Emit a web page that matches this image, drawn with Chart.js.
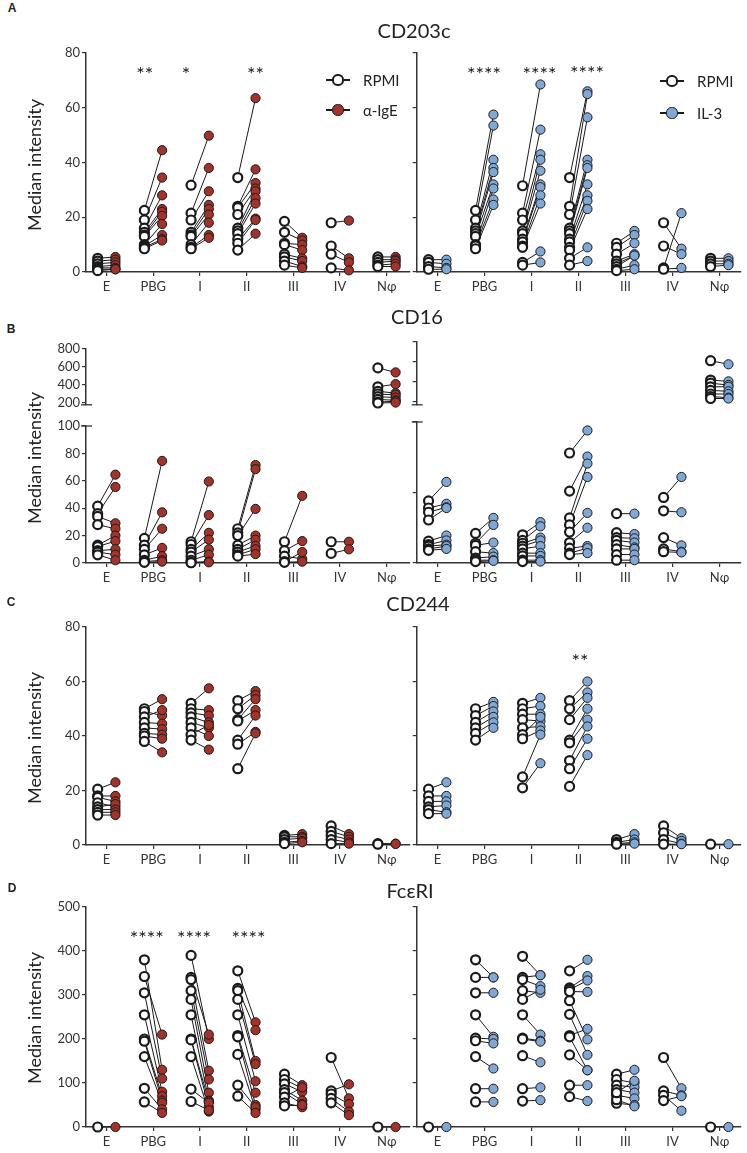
<!DOCTYPE html>
<html>
<head>
<meta charset="utf-8">
<script src="https://cdn.jsdelivr.net/npm/chart.js@4.4.1/dist/chart.umd.min.js"></script>
<style>
  body { margin: 0; background: #fff; font-family: Lato, "Open Sans", sans-serif; color: #222; }
  #fig { position: relative; width: 747px; height: 1153px; overflow: hidden; background: #fff; }
  #fig canvas { position: absolute; }
  .txt { position: absolute; white-space: nowrap; }
</style>
</head>
<body>
<div id="fig"></div>
<script>
var categories = ['E', 'PBG', 'I', 'II', 'III', 'IV', 'Nφ'];

// each row = one category, values paired by position (RPMI -> stimulated)
// CD203c
var cd203cRpmiL = [
  [5, 4, 3, 2, 1.5, 1, 0.5],
  [22.5, 19, 16, 14.5, 13.5, 13, 10, 9.5, 9, 8.5],
  [31.7, 21.5, 19, 14.5, 13.5, 13, 10, 9, 8.5],
  [34.5, 24, 23.5, 21, 16, 15, 14, 12, 10.5, 8],
  [18.5, 14.5, 10.5, 10, 6.5, 5.5, 4, 2.5],
  [18, 9.5, 6.5, 1.5],
  [5.5, 4.5, 3.5, 2.5, 2]
];
var cd203cIgE = [
  [5.5, 4.5, 3.5, 2.5, 1.5, 1, 1],
  [44.5, 34.5, 28, 23, 22, 20.5, 17.5, 13.5, 12, 11.5],
  [49.8, 38, 29.5, 24.5, 23, 21, 18, 13.5, 12.5],
  [63.5, 37.5, 32.5, 30.5, 29.5, 27, 25, 19.5, 19, 14],
  [12.5, 11.5, 10, 8, 5, 4, 2, 1.5],
  [18.8, 5, 3.5, 0.6],
  [5.5, 4.5, 4, 3, 2]
];
var cd203cRpmiR = [
  [4.5, 3.5, 2, 1],
  [22.5, 19, 16, 15, 14, 13, 10, 9.5, 8.5],
  [31.5, 21.5, 19, 15, 14, 12, 11, 9.5, 9, 3.5, 2.5],
  [34.5, 24, 21, 16, 15, 14, 12, 11, 9, 8, 5, 2.5],
  [10.5, 9, 6.5, 4, 3, 2, 1, 0.5],
  [18, 9.5, 1.5, 1],
  [5, 4, 3, 2]
];
var cd203cIL3 = [
  [4.5, 3, 1.5, 1],
  [57.5, 53.5, 41, 38, 36.5, 32, 30.5, 26.5, 24.5],
  [68.5, 52, 43, 41, 37, 32, 31, 28, 25, 7.5, 3.5],
  [66, 65, 56.5, 41, 39, 38, 32, 28, 26, 23, 9, 4],
  [15, 13.5, 10.5, 6.5, 6, 6, 2.5, 1],
  [8.5, 6.5, 21.5, 1.5],
  [5, 4, 3, 2.5]
];

// CD16 (Nφ sits on the upper, broken part of the axis)
var cd16RpmiL = [
  [41.5, 36, 34, 28, 13, 12, 9, 8, 6],
  [18, 13, 10, 6, 2, 1, 0.5],
  [15.5, 13.5, 10, 8, 5, 2, 0.5, 0.2],
  [25, 22, 20, 13, 10, 8, 6, 5],
  [15.5, 9, 5, 1, 0.5],
  [15.5, 7],
  [590, 380, 330, 300, 270, 240, 210, 200]
];
var cd16IgE = [
  [64.5, 55.5, 29, 25, 20, 16, 10, 6, 2],
  [74.5, 37, 25, 11, 5, 2, 1],
  [59.5, 35, 22, 17, 10, 6, 1, 0.5],
  [71.5, 68.5, 39.5, 20, 17, 12.5, 10, 6.5],
  [49, 16, 3, 8, 1],
  [15.5, 10],
  [540, 410, 310, 290, 260, 230, 220, 205]
];
var cd16RpmiR = [
  [44, 39, 36, 30.5, 15.5, 13, 12, 10, 9],
  [21, 14, 12.5, 8, 3.5, 2, 1],
  [20, 16, 14, 12, 10, 7, 5, 2, 1],
  [78, 51, 32, 27, 22, 14.5, 10.5, 7, 6],
  [35, 21.5, 18, 16, 13, 10, 6, 2],
  [46.5, 37, 18, 10, 8],
  [670, 455, 420, 380, 340, 300, 270, 250]
];
var cd16IL3 = [
  [57.5, 42, 39.5, 39, 19.5, 16, 13, 12, 10],
  [32, 27, 14.5, 7, 4.5, 2, 1.5],
  [29, 26, 18, 16, 12, 7, 5, 2, 1],
  [94, 75.5, 70.5, 61, 35.5, 25, 12, 10.5, 7],
  [35, 20.5, 17.5, 14.5, 11, 10, 6, 2],
  [61, 36, 12.5, 8, 7.5],
  [630, 440, 400, 380, 330, 300, 260, 250]
];

// CD244
var cd244RpmiL = [
  [20.5, 18, 17.5, 15.5, 14, 13, 12, 11],
  [50, 49, 47, 45, 43, 41, 40, 38],
  [52, 50, 48.5, 47, 45, 43, 40.5, 38.5],
  [53, 50, 46, 45.5, 38.5, 37, 28],
  [3.5, 3, 2, 1, 0.5],
  [7, 5, 3.5, 2, 0.5],
  [0.5, 0.3]
];
var cd244IgE = [
  [23, 18, 16, 14, 15, 13, 12, 11],
  [53.5, 47.5, 49.5, 44.5, 42.5, 40.5, 39, 34],
  [57.5, 49.5, 47.5, 45, 43, 40, 44, 35],
  [56.5, 55, 53.5, 49.5, 47.5, 41.5, 41],
  [4, 3, 2.5, 1.5, 1],
  [4, 3, 2, 1, 0.5],
  [0.5, 0.4]
];
var cd244RpmiR = [
  [20.5, 18, 16, 14, 13, 11.5],
  [50, 47.5, 45, 43, 41, 38.5],
  [52, 50, 48, 46, 43, 40.5, 39, 25, 21],
  [53, 50, 46, 38.5, 37.5, 31, 28, 21.5],
  [2, 1, 0.5, 0.3],
  [7, 4.5, 2, 0.3],
  [0.3]
];
var cd244IL3 = [
  [23, 18, 16, 14.5, 12, 11.5],
  [52.5, 51, 49, 47, 45, 43],
  [54, 51, 48, 45.5, 43.5, 47, 42, 40.5, 30],
  [60, 56, 54, 50, 46, 43.5, 39, 33],
  [4, 2, 1, 0.5],
  [2.5, 1.5, 0.5, 0.3],
  [0.3]
];

// FcεRI
var fcerRpmiL = [
  [0],
  [380, 342, 305, 255, 200, 195, 160, 88, 57],
  [390, 340, 335, 310, 290, 255, 200, 198, 160, 86, 58],
  [355, 315, 310, 290, 255, 208, 205, 165, 95, 70],
  [120, 108, 98, 85, 78, 68, 55, 48],
  [158, 82, 75, 65, 55],
  [0]
];
var fcerIgE = [
  [0],
  [130, 210, 110, 80, 70, 60, 55, 40, 32],
  [200, 210, 128, 108, 78, 60, 58, 45, 35, 55, 38],
  [238, 220, 150, 143, 104, 78, 50, 40, 45, 32],
  [95, 88, 80, 60, 52, 90, 45, 50],
  [65, 97, 52, 35, 27],
  [0]
];
var fcerRpmiR = [
  [0],
  [380, 340, 305, 255, 202, 196, 160, 87, 57],
  [388, 340, 335, 310, 290, 255, 202, 200, 162, 87, 59],
  [355, 316, 312, 308, 287, 256, 208, 205, 164, 95, 69],
  [120, 108, 95, 85, 72, 54, 62, 78],
  [158, 82, 72, 60],
  [0]
];
var fcerIL3 = [
  [0],
  [340, 340, 305, 205, 200, 190, 133, 87, 57],
  [345, 345, 320, 305, 312, 210, 196, 194, 147, 90, 61],
  [380, 343, 333, 307, 199, 164, 223, 129, 129, 95, 59],
  [130, 100, 90, 78, 65, 50, 47, 105],
  [88, 72, 37, 70],
  [0]
];

// significance marks: [x in category units, y value, text]
var sigCd203cIgE = [[0.82, 74, '**'], [1.7, 74, '*'], [3.19, 74, '**']];
var sigCd203cIL3 = [[0.99, 74, '****'], [2.17, 74, '****'], [3.18, 74.5, '****']];
var sigCd244IL3 = [[3.03, 69, '**']];
var sigFcerIgE = [[0.86, 440, '****'], [1.87, 440, '****'], [3.04, 440, '****']];

var red = '#a3322a';
var blue = '#7fa8d6';
var ink = '#1a1a1a';

Chart.defaults.font.family = 'Lato, "Open Sans", sans-serif';
Chart.defaults.font.size = 13;
Chart.defaults.color = '#333';

var fig = document.getElementById('fig');

function addText(str, x, y, css, tf) {
  var d = document.createElement('div');
  d.className = 'txt';
  d.textContent = str;
  d.style.left = x + 'px';
  d.style.top = y + 'px';
  d.style.transform = tf || 'translate(-50%,-50%)';
  for (var k in css) d.style[k] = css[k];
  fig.appendChild(d);
  return d;
}

function addBox(x, y, w, h, css) {
  var d = document.createElement('div');
  d.style.position = 'absolute';
  d.style.left = x + 'px';
  d.style.top = y + 'px';
  d.style.width = w + 'px';
  d.style.height = h + 'px';
  for (var k in css) d.style[k] = css[k];
  fig.appendChild(d);
}

function legendItem(cx, cy, fill, bw, label) {
  addBox(cx - 12, cy - 0.75, 24, 1.5, {background: ink});
  addBox(cx - 5.6, cy - 5.6, 11.2, 11.2, {background: fill, border: bw + 'px solid ' + ink, borderRadius: '50%', boxSizing: 'border-box'});
  addText(label, cx + 25, cy, {fontSize: '15px'}, 'translate(0,-50%)');
}

function starPlugin(items) {
  return {
    id: 'sig',
    afterDatasetsDraw: function(chart) {
      var ctx = chart.ctx;
      ctx.save();
      ctx.fillStyle = ink;
      ctx.font = '20px Lato, sans-serif';
      ctx.textAlign = 'center';
      ctx.textBaseline = 'middle';
      items.forEach(function(s) {
        ctx.fillText(s[2], chart.scales.x.getPixelForValue(s[0]), chart.scales.y.getPixelForValue(s[1]) + 5);
      });
      ctx.restore();
    }
  };
}

// short mark across the axis where it is broken
function breakPlugin(where) {
  return {
    id: 'brk',
    afterDraw: function(chart) {
      var ctx = chart.ctx, a = chart.chartArea;
      var y = where === 'bottom' ? a.bottom : a.top;
      ctx.save();
      ctx.strokeStyle = '#333';
      ctx.lineWidth = 1.3;
      ctx.beginPath();
      ctx.moveTo(a.left - 5, y);
      ctx.lineTo(a.left + 6, y);
      ctx.stroke();
      ctx.restore();
    }
  };
}

function plot(p) {
  var w = p.x1 - p.x0, h = p.y1 - p.y0;
  var c = document.createElement('canvas');
  c.width = w; c.height = h;
  c.style.left = p.x0 + 'px';
  c.style.top = p.y0 + 'px';
  c.style.width = w + 'px';
  c.style.height = h + 'px';
  fig.appendChild(c);

  var off = 0.19;
  var lines = [], ptsR = [], ptsT = [];
  p.rpmi.forEach(function(vals, i) {
    vals.forEach(function(v, j) {
      var t = p.trt[i][j];
      if (p.keep && !p.keep(v)) return;
      ptsR.push({x: i - off, y: v});
      ptsT.push({x: i + off, y: t});
      lines.push({
        data: [{x: i - off, y: v}, {x: i + off, y: t}],
        showLine: true, borderColor: ink, borderWidth: 1,
        pointRadius: 0, order: 3, clip: false
      });
    });
  });
  var datasets = [
    {data: ptsR, pointRadius: 4.5, pointBackgroundColor: '#fff', pointBorderColor: ink, pointBorderWidth: 2.2, order: 1, clip: false},
    {data: ptsT, pointRadius: 4.6, pointBackgroundColor: p.color, pointBorderColor: ink, pointBorderWidth: 1, order: 2, clip: false}
  ].concat(lines);

  var showX = p.showX !== false;
  var xScale = {
    type: 'linear', min: p.xmin, max: p.xmax, display: showX,
    afterBuildTicks: function(s) { s.ticks = categories.map(function(c, i) { return {value: i}; }); },
    ticks: {autoSkip: false, maxRotation: 0, padding: 3, color: '#333', font: {size: 13},
      callback: function(v) { return categories[v]; }},
    grid: {drawOnChartArea: false, drawTicks: true, tickLength: 4, color: '#333', lineWidth: 1.2},
    border: {display: true, color: '#333', width: 1.5}
  };
  if (showX) xScale.afterFit = function(s) { s.height = p.y1 - p.chartB; };

  var plugins = [];
  if (p.stars) plugins.push(starPlugin(p.stars));
  if (p.brk) plugins.push(breakPlugin(p.brk));

  new Chart(c.getContext('2d'), {
    type: 'scatter',
    data: {datasets: datasets},
    options: {
      responsive: false,
      animation: false,
      events: [],
      layout: {padding: {left: 0, top: p.chartT - p.y0, right: p.x1 - p.chartR, bottom: showX ? 0 : p.y1 - p.chartB}},
      plugins: {legend: {display: false}, tooltip: {enabled: false}},
      scales: {
        x: xScale,
        y: {
          type: 'linear', min: p.ymin, max: p.ymax,
          afterBuildTicks: function(s) { s.ticks = p.yTicks.map(function(v) { return {value: v}; }); },
          afterFit: function(s) { s.width = p.chartL - p.x0; },
          ticks: {display: p.yLabels, padding: 2, color: '#333', font: {size: 13}},
          grid: {drawOnChartArea: false, drawTicks: true, tickLength: 4, color: '#333', lineWidth: 1.2},
          border: {display: true, color: '#333', width: 1.5}
        }
      }
    },
    plugins: plugins
  });
}

var L = {x0: 30, x1: 416, chartL: 86, chartR: 416, xmin: -0.44, xmax: 6.483, yLabels: true};
var R = {x0: 410, x1: 747, chartL: 416, chartR: 743, xmin: -0.442, xmax: 6.442, yLabels: false};
function side(base, extra) {
  var o = {};
  for (var k in base) o[k] = base[k];
  for (var k2 in extra) o[k2] = extra[k2];
  return o;
}

// A  CD203c
var rowA = {y0: 40, y1: 300, chartT: 53, chartB: 272, ymin: 0, ymax: 80, yTicks: [0, 20, 40, 60, 80]};
plot(side(side(L, rowA), {rpmi: cd203cRpmiL, trt: cd203cIgE, color: red, stars: sigCd203cIgE}));
plot(side(side(R, rowA), {rpmi: cd203cRpmiR, trt: cd203cIL3, color: blue, stars: sigCd203cIL3}));

// B  CD16, broken axis
var isHigh = function(v) { return v > 150; };
var isLow = function(v) { return v <= 150; };
plot(side(L, {y0: 330, y1: 415, chartT: 349, chartB: 404.8, ymin: 180, ymax: 800, yTicks: [200, 400, 600, 800],
  showX: false, brk: 'bottom', rpmi: cd16RpmiL, trt: cd16IgE, color: red, keep: isHigh}));
plot(side(R, {y0: 330, y1: 415, chartT: 341.8, chartB: 404.8, ymin: 180, ymax: 880, yTicks: [220, 440, 660, 880],
  showX: false, brk: 'bottom', rpmi: cd16RpmiR, trt: cd16IL3, color: blue, keep: isHigh}));
plot(side(L, {y0: 412, y1: 590, chartT: 426, chartB: 563, ymin: 0, ymax: 100, yTicks: [0, 20, 40, 60, 80, 100],
  brk: 'top', rpmi: cd16RpmiL, trt: cd16IgE, color: red, keep: isLow}));
plot(side(R, {y0: 412, y1: 590, chartT: 422, chartB: 563, ymin: 0, ymax: 100, yTicks: [0, 50, 100],
  brk: 'top', rpmi: cd16RpmiR, trt: cd16IL3, color: blue, keep: isLow}));

// C  CD244
var rowC = {y0: 610, y1: 870, chartT: 627, chartB: 845, ymin: 0, ymax: 80, yTicks: [0, 20, 40, 60, 80]};
plot(side(side(L, rowC), {rpmi: cd244RpmiL, trt: cd244IgE, color: red}));
plot(side(side(R, rowC), {rpmi: cd244RpmiR, trt: cd244IL3, color: blue, stars: sigCd244IL3}));

// D  FcεRI
var rowD = {y0: 890, y1: 1153, chartT: 907, chartB: 1127, ymin: 0, ymax: 500, yTicks: [0, 100, 200, 300, 400, 500]};
plot(side(side(L, rowD), {rpmi: fcerRpmiL, trt: fcerIgE, color: red, stars: sigFcerIgE}));
plot(side(side(R, rowD), {rpmi: fcerRpmiR, trt: fcerIL3, color: blue}));

// titles, panel letters, axis titles, legends
addText('CD203c', 414, 30, {fontSize: '20px'});
addText('CD16', 417, 316, {fontSize: '20px'});
addText('CD244', 418, 603, {fontSize: '20px'});
addText('FcεRI', 410, 890, {fontSize: '20px'});
[['A', 12, 8], ['B', 11, 329], ['C', 11, 602], ['D', 12, 888]].forEach(function(a) {
  addText(a[0], a[1], a[2], {fontSize: '12px', fontWeight: 'bold', fontFamily: 'Arial, "Liberation Sans", sans-serif'});
});
[165, 458, 738, 1018].forEach(function(y) {
  addText('Median intensity', 34, y, {fontSize: '18px'}, 'translate(-50%,-50%) rotate(-90deg)');
});
legendItem(338, 80, '#fff', 2.2, 'RPMI');
legendItem(338, 110, red, 1, 'α-IgE');
legendItem(672, 81, '#fff', 2.2, 'RPMI');
legendItem(672, 113, blue, 1, 'IL-3');
</script>
</body>
</html>
